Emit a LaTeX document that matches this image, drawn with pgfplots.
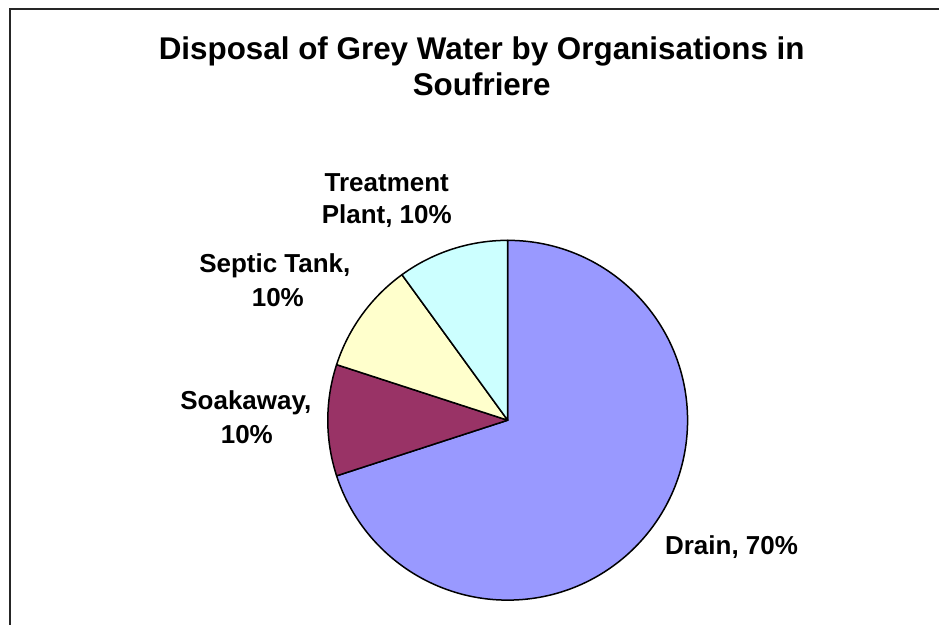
\documentclass[border=0pt]{standalone}
\usepackage{fontspec}
\setmainfont{Liberation Sans}
\usepackage{pgfplots}
\pgfplotsset{compat=1.18}
\definecolor{drainc}{HTML}{9999FF}
\definecolor{soakc}{HTML}{993366}
\definecolor{septc}{HTML}{FFFFCC}
\definecolor{treatc}{HTML}{CCFFFF}
\begin{document}
\begin{tikzpicture}
\begin{axis}[
  x=0.5pt, y=0.5pt,
  xmin=0, xmax=940, ymin=0, ymax=625,
  hide axis, clip=false,
]
% full picture extent
\path (axis cs:0,0) rectangle (axis cs:940,625);
% frame
\draw[line width=0.6pt, black!85] (axis cs:10,0) -- (axis cs:10,616) -- (axis cs:940,616);
% title
\node[anchor=base, font=\fontsize{15.7}{18}\selectfont\bfseries] at (axis cs:482,565) {Disposal of Grey Water by Organisations in};
\node[anchor=base, font=\fontsize{15.7}{18}\selectfont\bfseries] at (axis cs:482,529) {Soufriere};
% pie: values 70 (Drain), 10 (Soakaway), 10 (Septic Tank), 10 (Treatment Plant), clockwise from 12 o'clock
\filldraw[fill=drainc, draw=black, line width=0.75pt, line join=round]
  (axis cs:508,204.5) -- ++(90:90pt) arc[start angle=90, end angle={90-3.6*70}, radius=90pt] -- cycle;
\filldraw[fill=soakc, draw=black, line width=0.75pt, line join=round]
  (axis cs:508,204.5) -- ++({90-3.6*70}:90pt) arc[start angle={90-3.6*70}, end angle={90-3.6*80}, radius=90pt] -- cycle;
\filldraw[fill=septc, draw=black, line width=0.75pt, line join=round]
  (axis cs:508,204.5) -- ++({90-3.6*80}:90pt) arc[start angle={90-3.6*80}, end angle={90-3.6*90}, radius=90pt] -- cycle;
\filldraw[fill=treatc, draw=black, line width=0.75pt, line join=round]
  (axis cs:508,204.5) -- ++({90-3.6*90}:90pt) arc[start angle={90-3.6*90}, end angle={90-3.6*100}, radius=90pt] -- cycle;
% labels
\tikzset{lab/.style={anchor=base, font=\fontsize{13}{15}\selectfont\bfseries}}
\node[lab] at (axis cs:387,433) {Treatment};
\node[lab] at (axis cs:387,401) {Plant, 10\%};
\node[lab] at (axis cs:275,352) {Septic Tank,};
\node[lab] at (axis cs:278,318) {10\%};
\node[lab] at (axis cs:246,215) {Soakaway,};
\node[lab] at (axis cs:247,181) {10\%};
\node[lab] at (axis cs:732,70) {Drain, 70\%};
\end{axis}
\end{tikzpicture}
\end{document}
